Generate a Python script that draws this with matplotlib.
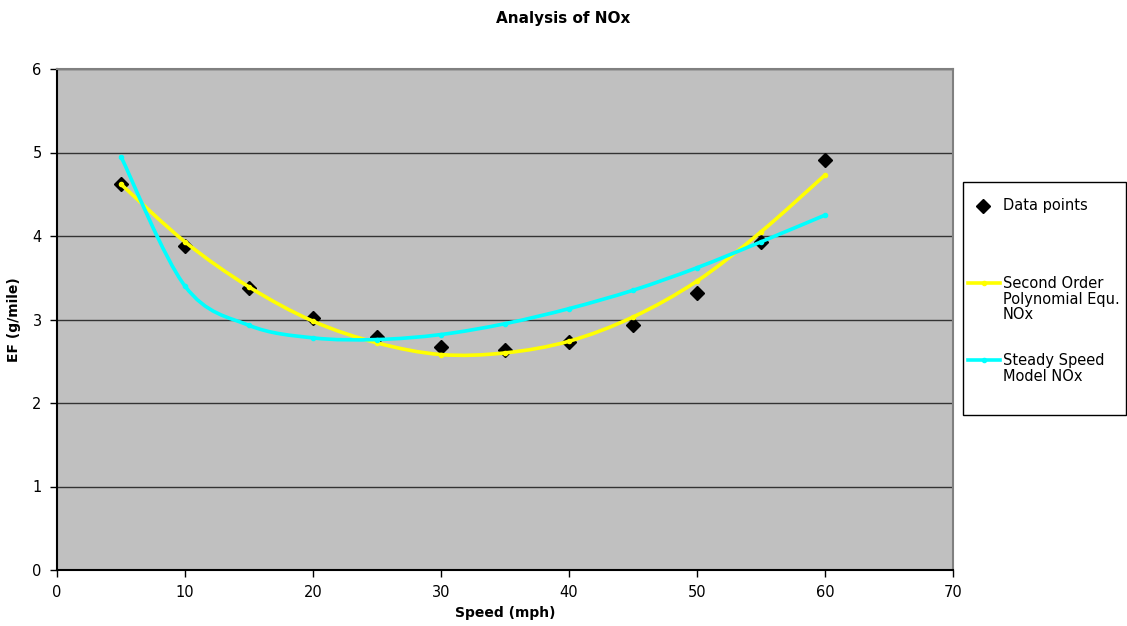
import matplotlib
matplotlib.use("Agg")
import matplotlib.pyplot as plt
from matplotlib.path import Path
from matplotlib.patches import PathPatch, Rectangle
from matplotlib.lines import Line2D

plt.rcParams['font.family'] = ['DejaVu Sans']

# Speeds (mph) and NOx emission factors (g/mile)
speed = [5, 10, 15, 20, 25, 30, 35, 40, 45, 50, 55, 60]
data_points = [4.62, 3.88, 3.38, 3.02, 2.79, 2.67, 2.63, 2.73, 2.93, 3.32, 3.93, 4.91]
poly_nox = [4.62, 3.93, 3.39, 2.98, 2.72, 2.58, 2.60, 2.74, 3.03, 3.46, 4.05, 4.73]
steady_nox = [4.95, 3.40, 2.93, 2.78, 2.76, 2.82, 2.95, 3.13, 3.35, 3.62, 3.93, 4.25]

x_ticks = [0, 10, 20, 30, 40, 50, 60, 70]
y_ticks = [0, 1, 2, 3, 4, 5, 6]

legend_labels = ["Data points", "Second Order\nPolynomial Equ.\nNOx", "Steady Speed\nModel NOx"]
YELLOW = "#FFFF00"
CYAN = "#00FFFF"


def smooth_path(xs, ys):
    """Cubic Bezier path through the points (Catmull-Rom style smoothing)."""
    pts = list(zip(xs, ys))
    n = len(pts)
    verts = [pts[0]]
    codes = [Path.MOVETO]
    for i in range(n - 1):
        p0 = pts[i - 1] if i > 0 else pts[i]
        p1 = pts[i]
        p2 = pts[i + 1]
        p3 = pts[i + 2] if i + 2 < n else pts[i + 1]
        c1 = (p1[0] + (p2[0] - p0[0]) / 6.0, p1[1] + (p2[1] - p0[1]) / 6.0)
        c2 = (p2[0] - (p3[0] - p1[0]) / 6.0, p2[1] - (p3[1] - p1[1]) / 6.0)
        verts += [c1, c2, p2]
        codes += [Path.CURVE4] * 3
    return Path(verts, codes)


W, H = 1127, 626
fig = plt.figure(figsize=(W / 100, H / 100), dpi=100)
ax = fig.add_axes([57 / W, 1 - 570 / H, (953 - 57) / W, (570 - 69) / H])
ax.set_facecolor("#C0C0C0")

ax.set_xlim(0, 70)
ax.set_ylim(0, 6)
ax.set_xticks(x_ticks)
ax.set_yticks(y_ticks)
ax.tick_params(axis='both', direction='out', length=5, width=1, labelsize=10.5, colors='black', pad=6)

ax.grid(axis='y', color='#333333', linewidth=1)
ax.set_axisbelow(True)

for side in ('left', 'bottom'):
    ax.spines[side].set_color('black')
    ax.spines[side].set_linewidth(1.5)
for side in ('top', 'right'):
    ax.spines[side].set_color('#808080')
    ax.spines[side].set_linewidth(1.5)

# Measured points
ax.plot(speed, data_points, linestyle='none', marker='D', markersize=7.5,
        color='black', zorder=3)

# Smoothed model curves with small markers at each speed
for vals, col in ((poly_nox, YELLOW), (steady_nox, CYAN)):
    ax.add_patch(PathPatch(smooth_path(speed, vals), facecolor='none', edgecolor=col,
                           linewidth=2.6, zorder=4, capstyle='round', joinstyle='round'))
    ax.plot(speed, vals, linestyle='none', marker='o', markersize=3, color=col, zorder=4)

ax.set_xlabel("Speed (mph)", fontsize=10, fontweight='bold', labelpad=4)
ax.set_ylabel("EF (g/mile)", fontsize=10, fontweight='bold', labelpad=8)
fig.text(0.5, 1 - 18 / H, "Analysis of NOx", ha='center', va='center',
         fontsize=11, fontweight='bold')

# Legend box
fig.patches.append(Rectangle((963 / W, 1 - 415 / H), (1126 - 963) / W, (415 - 182) / H,
                             transform=fig.transFigure, facecolor='white',
                             edgecolor='black', linewidth=1))
fig.lines.append(Line2D([983 / W], [1 - 206 / H], transform=fig.transFigure,
                        marker='D', markersize=7, color='black', linestyle='none'))
for yy, col in ((283, YELLOW), (360, CYAN)):
    fig.lines.append(Line2D([968 / W, 1000 / W], [1 - yy / H, 1 - yy / H],
                            transform=fig.transFigure, color=col, linewidth=2.6))
    fig.lines.append(Line2D([984 / W], [1 - yy / H], transform=fig.transFigure,
                            color=col, marker='o', markersize=3, linestyle='none'))
text_tops = (198, 276, 353)
for top, lab in zip(text_tops, legend_labels):
    fig.text(1003 / W, 1 - top / H, lab, ha='left', va='top', fontsize=10.5,
             linespacing=1.05)

fig.savefig("out.png", dpi=100)
